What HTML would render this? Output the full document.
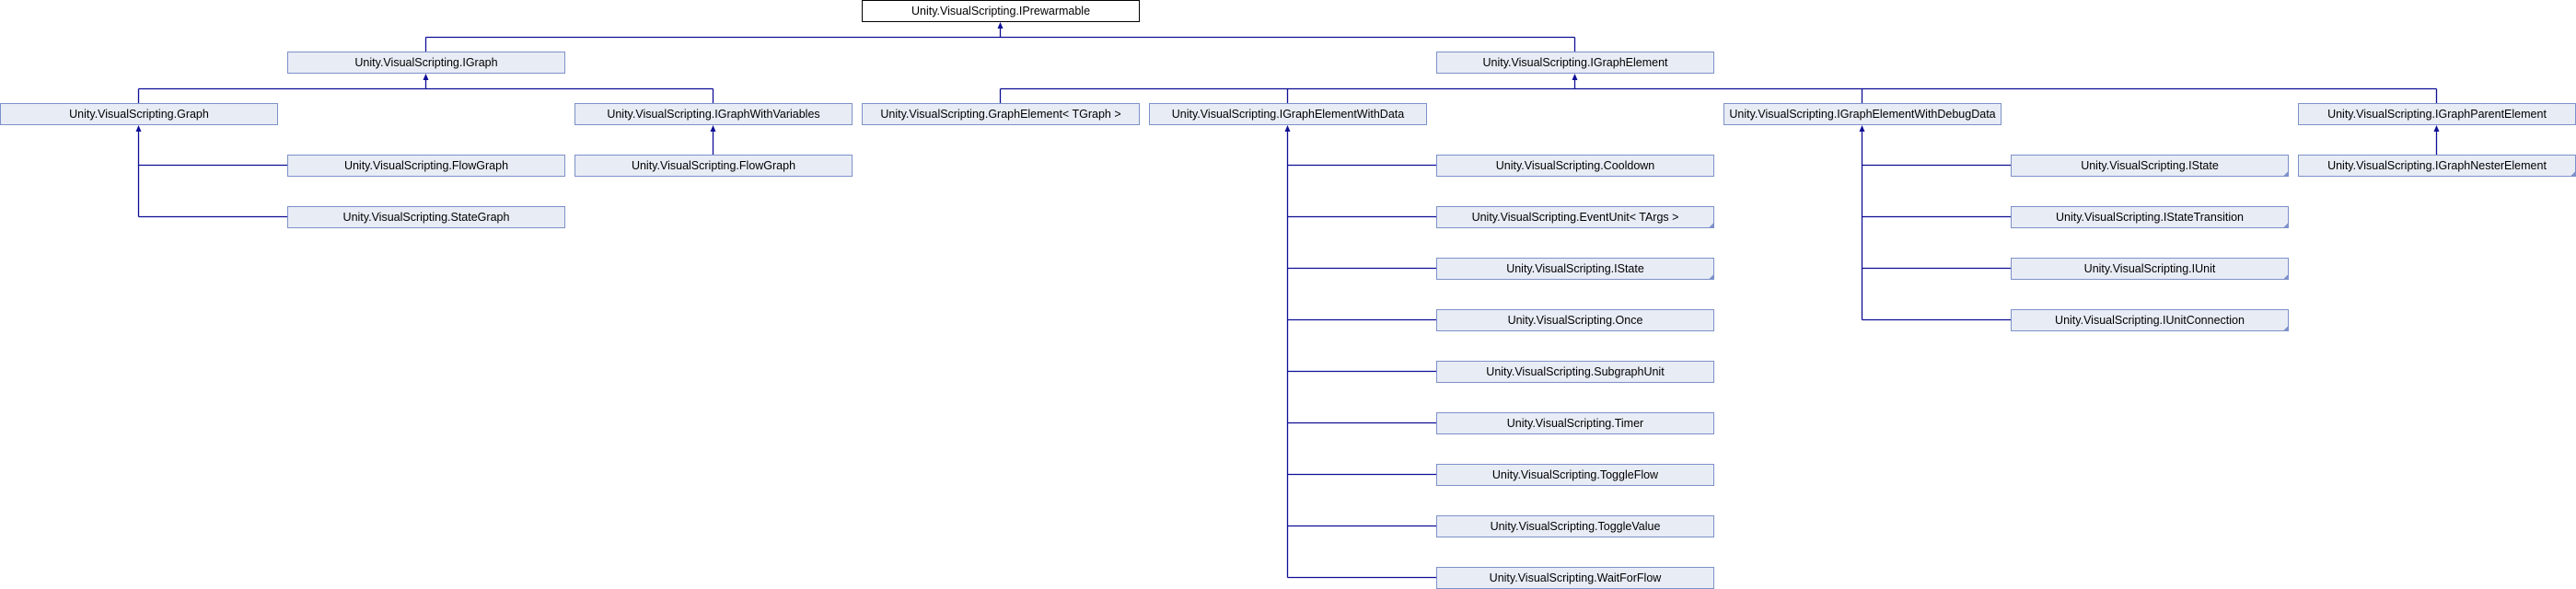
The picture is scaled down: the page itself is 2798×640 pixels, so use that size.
<!DOCTYPE html>
<html><head><meta charset="utf-8"><style>
html,body{margin:0;padding:0;background:#fff;}
svg{display:block}
text{font-family:"Liberation Sans",Arial,sans-serif;font-size:12.5px;fill:#000;text-anchor:middle}
.b{fill:#e8ecf5;stroke:#7d91c9;stroke-width:1}
.w{fill:#fff;stroke:#000;stroke-width:1}
.l{stroke:#0f0f96;stroke-width:1.3;fill:none}
.a{fill:#0f0f96}
.c{fill:#7d91c9}
</style></head><body>
<svg width="2798" height="640" viewBox="0 0 2798 640" xmlns="http://www.w3.org/2000/svg">
<path class="l" d="M1086.5 30 V40.5 M462.5 40.5 H1710.5 M462.5 40.5 V56 M1710.5 40.5 V56"/>
<path class="l" d="M462.5 86 V96.5 M150.5 96.5 H774.5 M150.5 96.5 V112 M774.5 96.5 V112"/>
<path class="l" d="M1710.5 86 V96.5 M1086.5 96.5 H2646.5 M1086.5 96.5 V112 M1398.5 96.5 V112 M2022.5 96.5 V112 M2646.5 96.5 V112"/>
<path class="l" d="M150.5 142 V235.5 M150.5 179.5 H312 M150.5 235.5 H312"/>
<path class="l" d="M774.5 142 V168"/>
<path class="l" d="M1398.5 142 V627.5 M1398.5 179.5 H1560 M1398.5 235.5 H1560 M1398.5 291.5 H1560 M1398.5 347.5 H1560 M1398.5 403.5 H1560 M1398.5 459.5 H1560 M1398.5 515.5 H1560 M1398.5 571.5 H1560 M1398.5 627.5 H1560"/>
<path class="l" d="M2022.5 142 V347.5 M2022.5 179.5 H2184 M2022.5 235.5 H2184 M2022.5 291.5 H2184 M2022.5 347.5 H2184"/>
<path class="l" d="M2646.5 142 V168"/>
<polygon class="a" points="1086.5,24 1083.5,31 1089.5,31"/>
<polygon class="a" points="462.5,80 459.5,87 465.5,87"/>
<polygon class="a" points="1710.5,80 1707.5,87 1713.5,87"/>
<polygon class="a" points="150.5,136 147.5,143 153.5,143"/>
<polygon class="a" points="774.5,136 771.5,143 777.5,143"/>
<polygon class="a" points="1398.5,136 1395.5,143 1401.5,143"/>
<polygon class="a" points="2022.5,136 2019.5,143 2025.5,143"/>
<polygon class="a" points="2646.5,136 2643.5,143 2649.5,143"/>
<rect class="w" x="936.5" y="0.5" width="301" height="23"/><text x="1087" y="16">Unity.VisualScripting.IPrewarmable</text>
<rect class="b" x="312.5" y="56.5" width="301" height="23"/><text x="463" y="72">Unity.VisualScripting.IGraph</text>
<rect class="b" x="1560.5" y="56.5" width="301" height="23"/><text x="1711" y="72">Unity.VisualScripting.IGraphElement</text>
<rect class="b" x="0.5" y="112.5" width="301" height="23"/><text x="151" y="128">Unity.VisualScripting.Graph</text>
<rect class="b" x="624.5" y="112.5" width="301" height="23"/><text x="775" y="128">Unity.VisualScripting.IGraphWithVariables</text>
<rect class="b" x="936.5" y="112.5" width="301" height="23"/><text x="1087" y="128">Unity.VisualScripting.GraphElement&lt; TGraph &gt;</text>
<rect class="b" x="1248.5" y="112.5" width="301" height="23"/><text x="1399" y="128">Unity.VisualScripting.IGraphElementWithData</text>
<rect class="b" x="1872.5" y="112.5" width="301" height="23"/><text x="2023" y="128">Unity.VisualScripting.IGraphElementWithDebugData</text>
<rect class="b" x="2496.5" y="112.5" width="301" height="23"/><text x="2647" y="128">Unity.VisualScripting.IGraphParentElement</text>
<rect class="b" x="312.5" y="168.5" width="301" height="23"/><text x="463" y="184">Unity.VisualScripting.FlowGraph</text>
<rect class="b" x="624.5" y="168.5" width="301" height="23"/><text x="775" y="184">Unity.VisualScripting.FlowGraph</text>
<rect class="b" x="1560.5" y="168.5" width="301" height="23"/><text x="1711" y="184">Unity.VisualScripting.Cooldown</text>
<rect class="b" x="2184.5" y="168.5" width="301" height="23"/><text x="2335" y="184">Unity.VisualScripting.IState</text>
<polygon class="c" points="2485.5,186 2485.5,191.5 2480,191.5"/>
<rect class="b" x="2496.5" y="168.5" width="301" height="23"/><text x="2647" y="184">Unity.VisualScripting.IGraphNesterElement</text>
<polygon class="c" points="2797.5,186 2797.5,191.5 2792,191.5"/>
<rect class="b" x="312.5" y="224.5" width="301" height="23"/><text x="463" y="240">Unity.VisualScripting.StateGraph</text>
<rect class="b" x="1560.5" y="224.5" width="301" height="23"/><text x="1711" y="240">Unity.VisualScripting.EventUnit&lt; TArgs &gt;</text>
<polygon class="c" points="1861.5,242 1861.5,247.5 1856,247.5"/>
<rect class="b" x="2184.5" y="224.5" width="301" height="23"/><text x="2335" y="240">Unity.VisualScripting.IStateTransition</text>
<polygon class="c" points="2485.5,242 2485.5,247.5 2480,247.5"/>
<rect class="b" x="1560.5" y="280.5" width="301" height="23"/><text x="1711" y="296">Unity.VisualScripting.IState</text>
<polygon class="c" points="1861.5,298 1861.5,303.5 1856,303.5"/>
<rect class="b" x="2184.5" y="280.5" width="301" height="23"/><text x="2335" y="296">Unity.VisualScripting.IUnit</text>
<polygon class="c" points="2485.5,298 2485.5,303.5 2480,303.5"/>
<rect class="b" x="1560.5" y="336.5" width="301" height="23"/><text x="1711" y="352">Unity.VisualScripting.Once</text>
<rect class="b" x="2184.5" y="336.5" width="301" height="23"/><text x="2335" y="352">Unity.VisualScripting.IUnitConnection</text>
<polygon class="c" points="2485.5,354 2485.5,359.5 2480,359.5"/>
<rect class="b" x="1560.5" y="392.5" width="301" height="23"/><text x="1711" y="408">Unity.VisualScripting.SubgraphUnit</text>
<rect class="b" x="1560.5" y="448.5" width="301" height="23"/><text x="1711" y="464">Unity.VisualScripting.Timer</text>
<rect class="b" x="1560.5" y="504.5" width="301" height="23"/><text x="1711" y="520">Unity.VisualScripting.ToggleFlow</text>
<rect class="b" x="1560.5" y="560.5" width="301" height="23"/><text x="1711" y="576">Unity.VisualScripting.ToggleValue</text>
<rect class="b" x="1560.5" y="616.5" width="301" height="23"/><text x="1711" y="632">Unity.VisualScripting.WaitForFlow</text>
</svg>
</body></html>
